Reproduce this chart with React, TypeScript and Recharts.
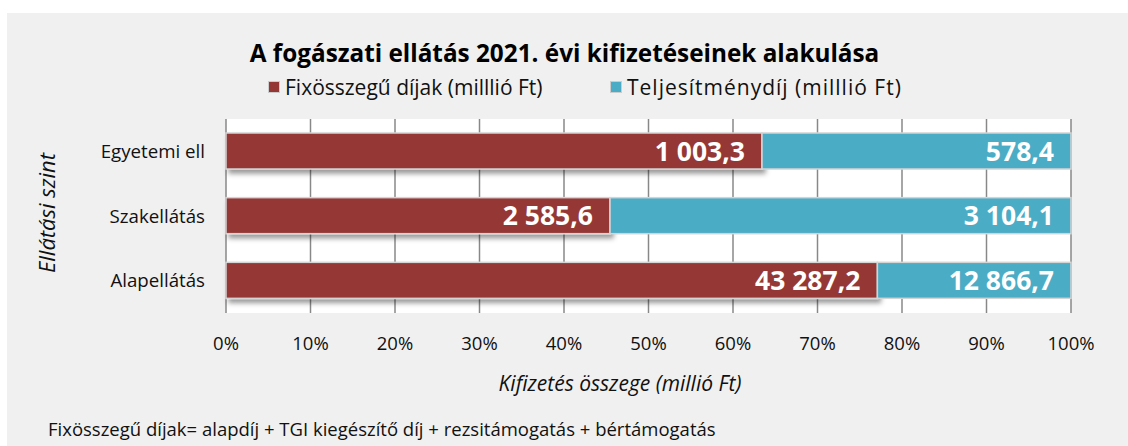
import { BarChart, Bar, XAxis, YAxis, CartesianGrid, LabelList } from 'recharts';

const categories = ['Egyetemi ell', 'Szakellátás', 'Alapellátás'];
const fixValues = [1003.3, 2585.6, 43287.2];
const perfValues = [578.4, 3104.1, 12866.7];
const xTicks = [0, 0.1, 0.2, 0.3, 0.4, 0.5, 0.6, 0.7, 0.8, 0.9, 1];

const data = categories.map((name, i) => ({ name, fix: fixValues[i], perf: perfValues[i] }));

const RED = '#953735';
const BLUE = '#4bacc6';
const FONT = '"Open Sans", sans-serif';

// 1234.5 -> "1 234,5"
const huNum = (v: number) => {
  const [int, dec] = v.toFixed(1).split('.');
  return int.replace(/\B(?=(\d{3})+(?!\d))/g, ' ') + ',' + dec;
};

const ShadowRect = (props: any) => {
  const { x, y, width, height, fill, shadow } = props;
  return (
    <rect x={x} y={y} width={width} height={height} fill={fill} stroke="#d4d4d4" strokeWidth={1.5}
      filter={shadow ? 'url(#barShadow)' : undefined} />
  );
};

const ValueLabel = (props: any) => {
  const { x, y, width, height, value } = props;
  return (
    <text x={x + width - 17} y={y + height / 2} dy="0.36em" textAnchor="end" fill="#fff"
      fontSize={26.5} fontWeight={700} fontFamily={FONT}>
      {huNum(value)}
    </text>
  );
};

export default function App() {
  return (
    <div style={{ position: 'absolute', left: 0, top: 0, width: 1128, height: 446, background: '#fff', overflow: 'hidden' }}>
      <svg width={0} height={0} style={{ position: 'absolute' }}>
        <defs>
          <filter id="barShadow" x="-5%" y="-30%" width="115%" height="180%">
            <feDropShadow dx={3} dy={4} stdDeviation={2.5} floodColor="#000" floodOpacity={0.4} />
          </filter>
        </defs>
      </svg>
      <div style={{ position: 'absolute', left: 7, top: 13, width: 1121, height: 433, background: '#f0f0f0', fontFamily: FONT, color: '#111' }}>
        <div style={{ position: 'absolute', left: -3, top: 23, width: 1121, textAlign: 'center', fontSize: 24.3, fontWeight: 700, color: '#000', whiteSpace: 'nowrap' }}>
          A fogászati ellátás 2021. évi kifizetéseinek alakulása
        </div>
        <div style={{ position: 'absolute', left: 261, top: 60, display: 'flex', alignItems: 'center', fontSize: 21, whiteSpace: 'nowrap' }}>
          <span style={{ width: 10, height: 10, background: RED, border: '1px solid #ccc', marginRight: 5 }} />
          <span>Fixösszegű díjak (milllió Ft)</span>
        </div>
        <div style={{ position: 'absolute', left: 603, top: 60, display: 'flex', alignItems: 'center', fontSize: 21, whiteSpace: 'nowrap' }}>
          <span style={{ width: 10, height: 10, background: BLUE, border: '1px solid #ccc', marginRight: 5 }} />
          <span style={{ letterSpacing: 1 }}>Teljesítménydíj (milllió Ft)</span>
        </div>
        <div style={{ position: 'absolute', left: 39, top: 200, transform: 'translate(-50%, -50%) rotate(-90deg)', fontSize: 22, fontStyle: 'italic', whiteSpace: 'nowrap' }}>
          Ellátási szint
        </div>
        <div style={{ position: 'absolute', left: 613, top: 356, transform: 'translateX(-50%)', fontSize: 21, fontStyle: 'italic', whiteSpace: 'nowrap' }}>
          Kifizetés összege (millió Ft)
        </div>
        <div style={{ position: 'absolute', left: 41, top: 403, fontSize: 18.5, whiteSpace: 'nowrap' }}>
          Fixösszegű díjak= alapdíj + TGI kiegészítő díj + rezsitámogatás + bértámogatás
        </div>
        <div style={{ position: 'absolute', left: 0, top: 0 }}>
          <BarChart width={1121} height={433} data={data} layout="vertical" stackOffset="expand"
            margin={{ top: 106, right: 57, bottom: 0, left: 0 }} barSize={36}>
            <CartesianGrid horizontal={false} vertical stroke="#888" strokeWidth={1.5} fill="#fff" fillOpacity={1} />
            <XAxis type="number" domain={[0, 1]} ticks={xTicks} height={133} axisLine={false} tickSize={0} tickMargin={24}
              tickFormatter={(v: number) => `${Math.round(v * 100)}%`}
              tick={{ fontSize: 18.5, fill: '#111', fontFamily: FONT }} />
            <YAxis type="category" dataKey="name" width={219} axisLine={false} tickSize={0} tickMargin={21}
              tick={{ fontSize: 18.7, fill: '#111', fontFamily: FONT }} />
            <Bar dataKey="fix" stackId="a" fill={RED} isAnimationActive={false} shape={(p: any) => <ShadowRect {...p} shadow />}>
              <LabelList dataKey="fix" content={<ValueLabel />} />
            </Bar>
            <Bar dataKey="perf" stackId="a" fill={BLUE} isAnimationActive={false} shape={(p: any) => <ShadowRect {...p} />}>
              <LabelList dataKey="perf" content={<ValueLabel />} />
            </Bar>
          </BarChart>
        </div>
      </div>
    </div>
  );
}
